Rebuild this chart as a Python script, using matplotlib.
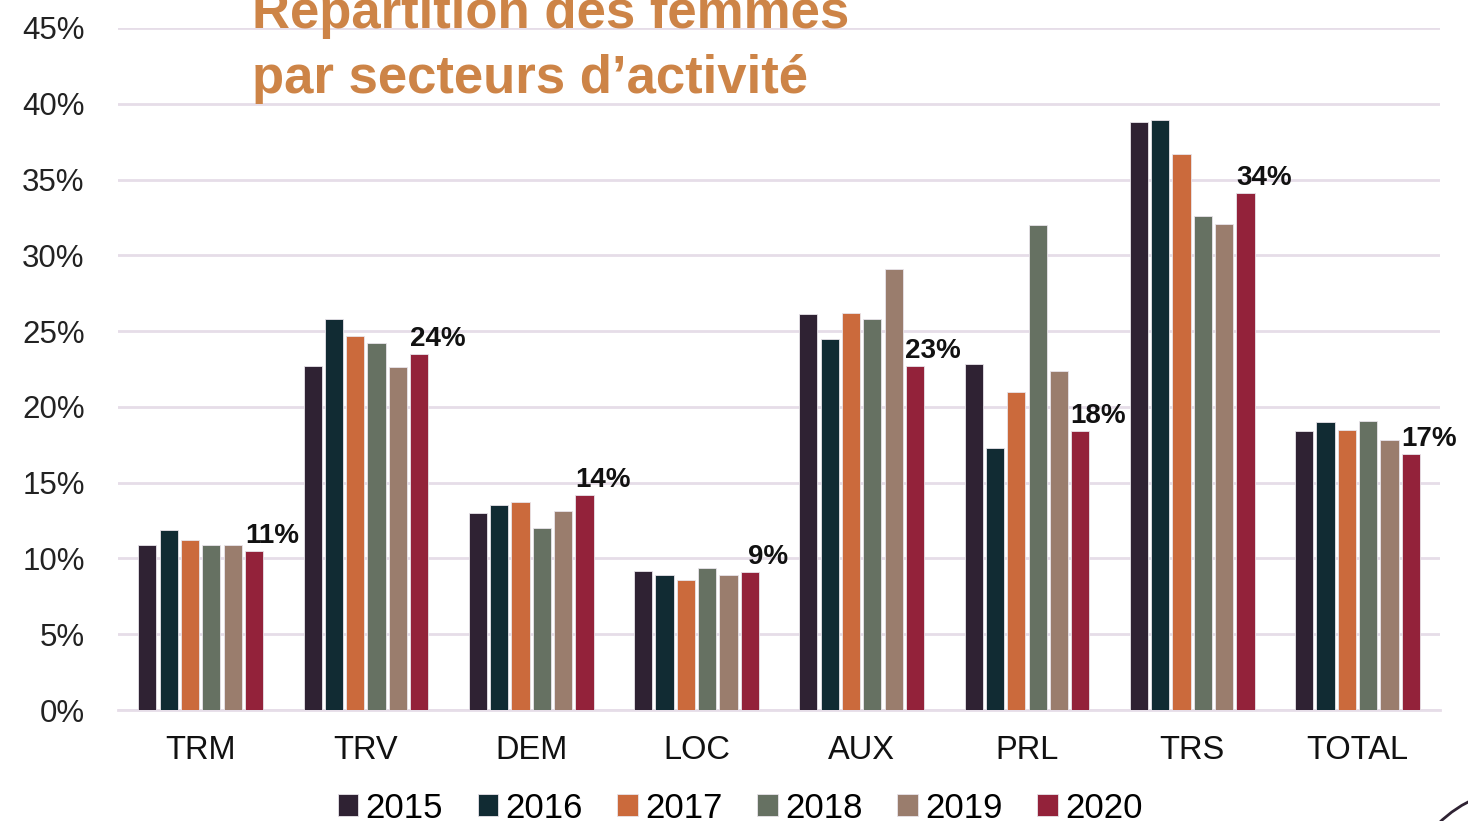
import matplotlib.pyplot as plt
import numpy as np
from matplotlib.patches import Arc

plt.rcParams['font.family'] = ['Liberation Sans', 'DejaVu Sans']

categories = ['TRM', 'TRV', 'DEM', 'LOC', 'AUX', 'PRL', 'TRS', 'TOTAL']
years = ['2015', '2016', '2017', '2018', '2019', '2020']

# share of women (%) per sector and year
v2015 = [10.9, 22.7, 13.0, 9.2, 26.1, 22.8, 38.8, 18.4]
v2016 = [11.9, 25.8, 13.5, 8.9, 24.5, 17.3, 38.9, 19.0]
v2017 = [11.2, 24.7, 13.7, 8.6, 26.2, 21.0, 36.7, 18.5]
v2018 = [10.9, 24.2, 12.0, 9.4, 25.8, 32.0, 32.6, 19.1]
v2019 = [10.9, 22.6, 13.1, 8.9, 29.1, 22.4, 32.1, 17.8]
v2020 = [10.5, 23.5, 14.2, 9.1, 22.7, 18.4, 34.1, 16.9]
labels2020 = ['11%', '24%', '14%', '9%', '23%', '18%', '34%', '17%']

series = [v2015, v2016, v2017, v2018, v2019, v2020]
colors = ['#2F2233', '#112B33', '#CB6A3C', '#667162', '#9A7D6D', '#93223A']

fig = plt.figure(figsize=(14.68, 8.21), dpi=100)
ax = fig.add_axes([0.0804, 0.1352, 0.9006, 0.8307])

x = np.arange(len(categories))
slot = 0.129
width = 0.11
for i, (vals, col, yr) in enumerate(zip(series, colors, years)):
    pos = x + (i - 2.5) * slot
    ax.bar(pos, np.array(vals) / 100, width, color=col, label=yr,
           edgecolor='#e8e4ea', linewidth=0.6, zorder=3)

# labels on the 2020 bars
pos20 = x + 2.5 * slot
for px, val, lab in zip(pos20, v2020, labels2020):
    ax.text(px + 0.11, val / 100 + 0.0015, lab, ha='center', va='bottom',
            fontsize=20, fontweight='bold', color='#111111', zorder=4)

ticks = np.arange(0, 0.451, 0.05)
ax.set_xlim(-0.5, 7.5)
ax.set_ylim(0, 0.45)
ax.set_yticks(ticks)
ax.set_yticklabels([f'{int(round(t * 100))}%' for t in ticks])
ax.set_xticks(x)
ax.set_xticklabels(categories)
ax.tick_params(axis='y', length=0, labelsize=22.5, labelcolor='#222222', pad=24)
ax.tick_params(axis='x', length=0, labelsize=23.5, labelcolor='#111111', pad=18)

ax.grid(axis='y', color='#e6dde8', linewidth=2, zorder=0)
for s in ['top', 'right', 'left']:
    ax.spines[s].set_visible(False)
ax.spines['bottom'].set_color('#e6dde8')
ax.spines['bottom'].set_linewidth(2)

title_color = '#CD8447'
fig.text(0.1717, 0.9659, 'Répartition des femmes', fontsize=38,
         fontweight='bold', color=title_color, ha='left', va='baseline')
fig.text(0.1717, 0.8867, 'par secteurs d\u2019activité', fontsize=38,
         fontweight='bold', color=title_color, ha='left', va='baseline')

ax.legend(loc='center', bbox_to_anchor=(0.4705, -0.1437), ncol=6,
          frameon=False, fontsize=25, handlelength=0.6, handleheight=0.6,
          handletextpad=0.2, columnspacing=1.0, borderpad=0.2)

arc = Arc((1.0388, -0.1096), 0.1676, 0.2996, theta1=90, theta2=180,
          transform=fig.transFigure, color='#2F2233', linewidth=2)
fig.patches.append(arc)

fig.savefig('out.png', dpi=100)
